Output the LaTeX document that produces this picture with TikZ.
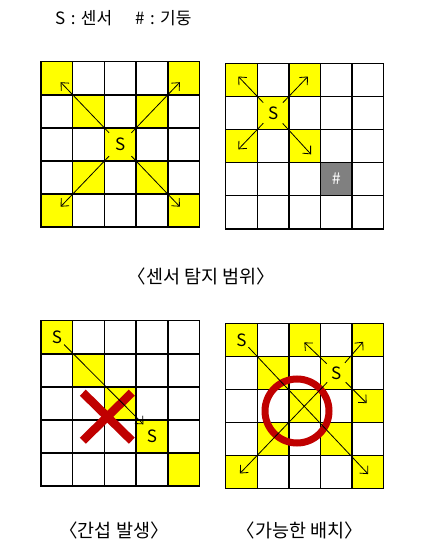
\documentclass[tikz,border=0pt]{standalone}
\usepackage{fontspec}
\setmainfont{Noto Sans CJK KR}
\usetikzlibrary{arrows.meta}
\definecolor{ylw}{HTML}{FFFF00}
\definecolor{redmark}{HTML}{C00000}
\definecolor{pillarfill}{HTML}{808080}
\tikzset{
  gridline/.style={draw=black, line width=1.5bp, line cap=rect},
  yel/.style={fill=ylw},
  sensor/.style={circle, inner sep=0pt, minimum size=#1, font=\fontsize{17bp}{17bp}\selectfont},
  sensor/.default=28bp,
  pillar/.style={inner sep=0pt, text=white, font=\fontsize{16bp}{16bp}\selectfont},
  arr/.style={draw=black, line width=0.8bp, -{Straight Barb[length=6bp,width=11bp,line width=0.8bp]}},
  cross/.style={draw=redmark, line width=8.5bp},
  ring/.style={draw=redmark, line width=7bp},
  caption/.style={inner sep=0pt, font=\fontsize{18.5bp}{18.5bp}\selectfont},
  legend/.style={inner sep=0pt, font=\fontsize{17bp}{17bp}\selectfont}
}
\newcommand\gridlines{\foreach \i in {0,...,5} {\draw[gridline] (\i,0) -- (\i,5); \draw[gridline] (0,\i) -- (5,\i);}}
\newcommand\lgap{\hspace{0.32em}}
\begin{document}
\begin{tikzpicture}[x=1bp,y=-1bp]
\fill[white] (0,0) rectangle (421,553);
\useasboundingbox (0,0) rectangle (421,553);

% legend
\node[legend, anchor=base west] (lgS) at (55,24.5) {S\lgap:\lgap 센서};
\node[legend, anchor=base west] (lgP) at (135,24.5) {\#\lgap:\lgap 기둥};

% grid 1
\begin{scope}[shift={(41,61.7)}, x=31.7bp, y=-33.1bp]
  \foreach \c/\r in {0/0,4/0,1/1,3/1,2/2,1/3,3/3,0/4,4/4} \fill[yel] (\c,\r) rectangle ++(1,1);
  \gridlines
  \node[sensor=32bp] (s1) at (2.5,2.5) {S};
  \coordinate (t1a) at (0.62,0.62);
  \coordinate (t1b) at (4.38,0.62);
  \coordinate (t1c) at (0.62,4.38);
  \coordinate (t1d) at (4.38,4.38);
  \draw[arr] (s1) -- (t1a);
  \draw[arr] (s1) -- (t1b);
  \draw[arr] (s1) -- (t1c);
  \draw[arr] (s1) -- (t1d);
\end{scope}

% grid 2
\begin{scope}[shift={(225.7,63.3)}, x=31.6bp, y=-33.1bp]
  \foreach \c/\r in {0/0,2/0,1/1,0/2,2/2} \fill[yel] (\c,\r) rectangle ++(1,1);
  \fill[pillarfill] (3,3) rectangle ++(1,1);
  \gridlines
  \node[sensor=28bp] (s2) at (1.5,1.5) {S};
  \node[pillar] (p2) at (3.5,3.5) {\#};
  \coordinate (t2a) at (0.4,0.4);
  \coordinate (t2b) at (2.6,0.4);
  \coordinate (t2c) at (0.4,2.6);
  \coordinate (t2d) at (2.7,2.75);
  \draw[arr] (s2) -- (t2a);
  \draw[arr] (s2) -- (t2b);
  \draw[arr] (s2) -- (t2c);
  \draw[arr] (s2) -- (t2d);
\end{scope}

\node[caption, anchor=base] (cap1) at (201.3,283) {〈센서 탐지 범위〉};

% grid 3
\begin{scope}[shift={(41,320.7)}, x=31.7bp, y=-33.1bp]
  \foreach \c/\r in {0/0,1/1,2/2,3/3,4/4} \fill[yel] (\c,\r) rectangle ++(1,1);
  \gridlines
  \node[sensor=20bp] (s3a) at (0.5,0.5) {S};
  \node[sensor=20bp] (s3b) at (3.5,3.5) {S};
  \coordinate (t3) at (3.23,3.13);
\end{scope}
\draw[cross] (82.8,392.7) -- (131.8,440.7);
\draw[cross] (82.8,440.7) -- (131.8,392.7);
\draw[arr] (s3a) -- (t3);

% grid 4
\begin{scope}[shift={(225.7,323.3)}, x=31.6bp, y=-33bp]
  \foreach \c/\r in {0/0,2/0,4/0,1/1,3/1,2/2,4/2,1/3,3/3,0/4,4/4} \fill[yel] (\c,\r) rectangle ++(1,1);
  \gridlines
  \node[sensor=20bp] (s4a) at (0.5,0.5) {S};
  \node[sensor=26bp] (s4b) at (3.5,1.5) {S};
  \coordinate (t4a) at (4.51,4.57);
  \coordinate (t4b) at (2.49,0.58);
  \coordinate (t4c) at (4.35,0.56);
  \coordinate (t4d) at (4.46,2.42);
  \coordinate (t4e) at (0.45,4.55);
\end{scope}
\draw[ring] (297,411) circle[radius=32];
\draw[arr] (s4a) -- (t4a);
\draw[arr] (s4b) -- (t4b);
\draw[arr] (s4b) -- (t4c);
\draw[arr] (s4b) -- (t4d);
\draw[arr] (s4b) -- (t4e);

\node[caption, anchor=base] (cap2) at (114,537) {〈간섭 발생〉};
\node[caption, anchor=base] (cap3) at (300,537) {〈가능한 배치〉};
\end{tikzpicture}
\end{document}
